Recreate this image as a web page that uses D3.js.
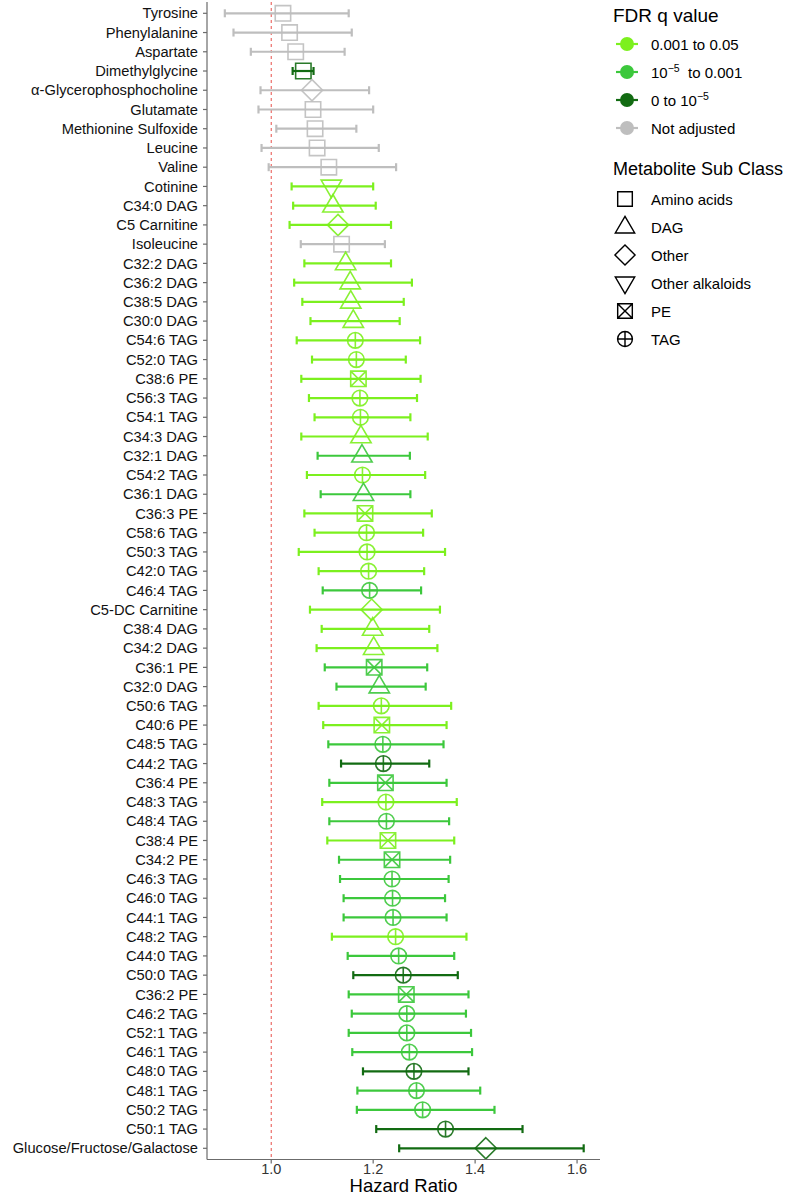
<!DOCTYPE html>
<html><head><meta charset="utf-8">
<script src="https://cdn.jsdelivr.net/npm/d3@7"></script>
<style>body{margin:0;background:#fff;} svg{display:block;font-family:"Liberation Sans",Arial,sans-serif;}</style>
</head><body><div id="chart"></div>
<script>
const metabolites = ["Tyrosine","Phenylalanine","Aspartate","Dimethylglycine","α-Glycerophosphocholine","Glutamate","Methionine Sulfoxide","Leucine","Valine","Cotinine","C34:0 DAG","C5 Carnitine","Isoleucine","C32:2 DAG","C36:2 DAG","C38:5 DAG","C30:0 DAG","C54:6 TAG","C52:0 TAG","C38:6 PE","C56:3 TAG","C54:1 TAG","C34:3 DAG","C32:1 DAG","C54:2 TAG","C36:1 DAG","C36:3 PE","C58:6 TAG","C50:3 TAG","C42:0 TAG","C46:4 TAG","C5-DC Carnitine","C38:4 DAG","C34:2 DAG","C36:1 PE","C32:0 DAG","C50:6 TAG","C40:6 PE","C48:5 TAG","C44:2 TAG","C36:4 PE","C48:3 TAG","C48:4 TAG","C38:4 PE","C34:2 PE","C46:3 TAG","C46:0 TAG","C44:1 TAG","C48:2 TAG","C44:0 TAG","C50:0 TAG","C36:2 PE","C46:2 TAG","C52:1 TAG","C46:1 TAG","C48:0 TAG","C48:1 TAG","C50:2 TAG","C50:1 TAG","Glucose/Fructose/Galactose"];
const hazardRatio = [1.023,1.036,1.048,1.063,1.080,1.082,1.086,1.090,1.113,1.118,1.121,1.131,1.138,1.146,1.155,1.156,1.161,1.165,1.167,1.171,1.174,1.175,1.176,1.178,1.179,1.181,1.184,1.187,1.188,1.191,1.193,1.197,1.199,1.201,1.202,1.212,1.216,1.217,1.219,1.220,1.224,1.225,1.226,1.229,1.237,1.237,1.238,1.239,1.244,1.250,1.259,1.265,1.266,1.266,1.271,1.280,1.285,1.297,1.342,1.421];
const lowerCI = [0.909,0.926,0.960,1.042,0.979,0.975,1.010,0.981,0.995,1.040,1.043,1.036,1.058,1.065,1.045,1.061,1.077,1.050,1.080,1.059,1.074,1.085,1.059,1.091,1.070,1.097,1.065,1.085,1.054,1.093,1.101,1.076,1.099,1.089,1.105,1.128,1.093,1.102,1.112,1.137,1.114,1.100,1.114,1.110,1.133,1.135,1.142,1.142,1.119,1.150,1.161,1.152,1.158,1.152,1.159,1.180,1.169,1.168,1.206,1.251];
const upperCI = [1.152,1.158,1.144,1.083,1.192,1.200,1.167,1.211,1.245,1.200,1.205,1.235,1.223,1.235,1.276,1.260,1.252,1.292,1.264,1.293,1.286,1.273,1.307,1.272,1.302,1.273,1.315,1.298,1.341,1.300,1.294,1.331,1.310,1.326,1.306,1.303,1.353,1.344,1.338,1.310,1.344,1.364,1.349,1.359,1.351,1.348,1.341,1.344,1.383,1.359,1.366,1.387,1.382,1.392,1.394,1.387,1.410,1.438,1.493,1.613];
// FDR class: L = 0.001 to 0.05, M = 1e-5 to 0.001, D = 0 to 1e-5, N = not adjusted
const fdrClass = ["N","N","N","D","N","N","N","N","N","L","L","L","N","L","L","L","L","L","L","L","L","L","L","M","L","M","L","L","L","L","M","L","L","L","M","M","L","L","M","D","M","L","M","L","M","M","M","M","L","M","D","M","M","M","M","D","M","M","D","D"];
const subClass = ["Amino acids","Amino acids","Amino acids","Amino acids","Other","Amino acids","Amino acids","Amino acids","Amino acids","Other alkaloids","DAG","Other","Amino acids","DAG","DAG","DAG","DAG","TAG","TAG","PE","TAG","TAG","DAG","DAG","TAG","DAG","PE","TAG","TAG","TAG","TAG","Other","DAG","DAG","PE","DAG","TAG","PE","TAG","TAG","PE","TAG","TAG","PE","PE","TAG","TAG","TAG","TAG","TAG","TAG","PE","TAG","TAG","TAG","TAG","TAG","TAG","TAG","Other"];
const fdrKeys = ["L","M","D","N"];
const fdrColors = ["#7cf01e","#3cc83c","#126b12","#bebebe"];
const subClassNames = ["Amino acids","DAG","Other","Other alkaloids","PE","TAG"];
const xTicks = [1.0,1.2,1.4,1.6];

(function(){
const W = 791, H = 1195;
const svg = d3.select("#chart").append("svg").attr("width",W).attr("height",H);

const pLeft = 207, pRight = 600, pTop = 2, pBottom = 1159.5;
const x = d3.scaleLinear().domain([0.874,1.645]).range([pLeft,pRight]);
const y = d3.scalePoint().domain(metabolites).range([13.3,1148.3]);
const color = d3.scaleOrdinal().domain(fdrKeys).range(fdrColors);

function shapePath(cls){
  switch(cls){
    case "Amino acids": return "M-7.7,-7.7H7.7V7.7H-7.7Z";
    case "DAG": return "M0,-11.2L10.2,6.3L-10.2,6.3Z";
    case "Other alkaloids": return "M0,11.2L10.2,-6.3L-10.2,-6.3Z";
    case "Other": return "M0,-10.6L10.6,0L0,10.6L-10.6,0Z";
    case "PE": return "M-7.7,-7.7H7.7V7.7H-7.7ZM-7.7,-7.7L7.7,7.7M7.7,-7.7L-7.7,7.7";
    case "TAG": return "M7.8,0A7.8,7.8 0 1,1 -7.8,0A7.8,7.8 0 1,1 7.8,0ZM0,-7.8V7.8M-7.8,0H7.8";
  }
}

const data = metabolites.map((m,i)=>({name:m,hr:hazardRatio[i],lo:lowerCI[i],hi:upperCI[i],fdr:fdrClass[i],cls:subClass[i]}));

svg.append("line").attr("x1",x(1)).attr("x2",x(1)).attr("y1",pTop).attr("y2",pBottom)
  .attr("stroke","#e8504a").attr("stroke-width",1).attr("stroke-dasharray","3,3");

const g = svg.append("g");
data.forEach(d=>{
  const c = color(d.fdr), yy = y(d.name);
  g.append("line").attr("x1",x(d.lo)).attr("x2",x(d.hi)).attr("y1",yy).attr("y2",yy).attr("stroke",c).attr("stroke-width",2.2);
  g.append("line").attr("x1",x(d.lo)).attr("x2",x(d.lo)).attr("y1",yy-4).attr("y2",yy+4).attr("stroke",c).attr("stroke-width",2.2);
  g.append("line").attr("x1",x(d.hi)).attr("x2",x(d.hi)).attr("y1",yy-4).attr("y2",yy+4).attr("stroke",c).attr("stroke-width",2.2);
});
data.forEach(d=>{
  g.append("path").attr("d",shapePath(d.cls)).attr("transform",`translate(${x(d.hr)},${y(d.name)})`)
    .attr("fill","none").attr("stroke",color(d.fdr)).attr("stroke-width",1.6).attr("stroke-opacity",0.9);
});

const axCol = "#6b6b6b";
svg.append("line").attr("x1",pLeft).attr("x2",pLeft).attr("y1",pTop).attr("y2",pBottom).attr("stroke",axCol).attr("stroke-width",1.2);
svg.append("line").attr("x1",pLeft).attr("x2",pRight).attr("y1",pBottom).attr("y2",pBottom).attr("stroke",axCol).attr("stroke-width",1.2);
metabolites.forEach(m=>{
  svg.append("line").attr("x1",pLeft-4).attr("x2",pLeft).attr("y1",y(m)).attr("y2",y(m)).attr("stroke",axCol).attr("stroke-width",1.2);
  svg.append("text").attr("x",pLeft-9).attr("y",y(m)).attr("dy","0.35em").attr("text-anchor","end")
    .attr("font-size","14.7px").attr("fill","#111").text(m);
});
xTicks.forEach(t=>{
  svg.append("line").attr("x1",x(t)).attr("x2",x(t)).attr("y1",pBottom).attr("y2",pBottom+4).attr("stroke",axCol).attr("stroke-width",1.2);
  svg.append("text").attr("x",x(t)).attr("y",1174).attr("text-anchor","middle").attr("font-size","14.5px").attr("fill","#333")
    .text(d3.format(".1f")(t));
});
svg.append("text").attr("x",(pLeft+pRight)/2).attr("y",1192).attr("text-anchor","middle").attr("font-size","18.5px").attr("fill","#000").text("Hazard Ratio");

const lx = 613;
svg.append("text").attr("x",lx).attr("y",22).attr("font-size","19px").text("FDR q value");
const fdrLabels = [
  [{t:"0.001 to 0.05"}],
  [{t:"10"},{t:"−5",sup:true},{t:"  to 0.001",down:true}],
  [{t:"0 to 10"},{t:"−5",sup:true}],
  [{t:"Not adjusted"}]
];
const fdrY = [44,72,100,128];
fdrKeys.forEach((k,i)=>{
  const yy = fdrY[i], c = color(k);
  svg.append("line").attr("x1",616).attr("x2",638).attr("y1",yy).attr("y2",yy).attr("stroke",c).attr("stroke-width",2.2);
  svg.append("circle").attr("cx",627).attr("cy",yy).attr("r",7).attr("fill",c);
  const t = svg.append("text").attr("x",651).attr("y",yy+5.5).attr("font-size","15px").style("white-space","pre");
  fdrLabels[i].forEach(p=>{
    if(p.sup) t.append("tspan").attr("dy",-6).attr("font-size","10.5px").text(p.t);
    else if(p.down) t.append("tspan").attr("dy",6).text(p.t);
    else t.append("tspan").text(p.t);
  });
});

svg.append("text").attr("x",lx).attr("y",175).attr("font-size","18px").text("Metabolite Sub Class");
const scY = [199,227,255,283,311,339];
subClassNames.forEach((s,i)=>{
  svg.append("path").attr("d",shapePath(s)).attr("transform",`translate(625,${scY[i]}) scale(0.95)`)
    .attr("fill","none").attr("stroke","#000").attr("stroke-width",1.5);
  svg.append("text").attr("x",651).attr("y",scY[i]+5.5).attr("font-size","15px").text(s);
});
})();
</script></body></html>
